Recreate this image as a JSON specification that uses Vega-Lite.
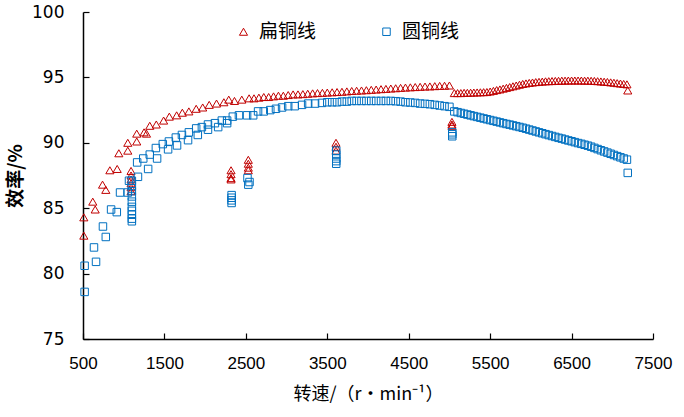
{
  "$schema": "https://vega.github.io/schema/vega-lite/v6.json",
  "width": 570,
  "height": 327,
  "autosize": {"type": "none"},
  "padding": {"left": 83, "top": 12, "right": 31, "bottom": 78},
  "background": "white",
  "config": {
    "view": {"stroke": null},
    "axis": {
      "grid": false,
      "domainColor": "black",
      "domainWidth": 1.5,
      "tickColor": "black",
      "tickWidth": 1.2,
      "tickSize": -6,
      "labelColor": "black",
      "titleColor": "black",
      "labelFlush": false
    }
  },
  "datasets": {
    "pts": [
      {"s":"扁铜线","x":510,"y":82.9},{"s":"扁铜线","x":510,"y":84.3},{"s":"扁铜线","x":620,"y":85.5},{"s":"扁铜线","x":650,"y":84.9},
      {"s":"扁铜线","x":740,"y":86.8},{"s":"扁铜线","x":780,"y":86.4},{"s":"扁铜线","x":830,"y":87.9},{"s":"扁铜线","x":920,"y":88.0},
      {"s":"扁铜线","x":940,"y":89.2},{"s":"扁铜线","x":1050,"y":89.4},{"s":"扁铜线","x":1050,"y":90.0},{"s":"扁铜线","x":1160,"y":90.1},
      {"s":"扁铜线","x":1160,"y":90.7},{"s":"扁铜线","x":1250,"y":90.8},{"s":"扁铜线","x":1280,"y":90.7},{"s":"扁铜线","x":1320,"y":91.3},
      {"s":"扁铜线","x":1400,"y":91.4},{"s":"扁铜线","x":1490,"y":91.7},{"s":"扁铜线","x":1560,"y":92.0},{"s":"扁铜线","x":1650,"y":92.1},
      {"s":"扁铜线","x":1720,"y":92.3},{"s":"扁铜线","x":1800,"y":92.4},{"s":"扁铜线","x":1890,"y":92.6},{"s":"扁铜线","x":1970,"y":92.7},
      {"s":"扁铜线","x":2050,"y":92.9},{"s":"扁铜线","x":2140,"y":93.0},{"s":"扁铜线","x":2230,"y":93.1},{"s":"扁铜线","x":2290,"y":93.3},
      {"s":"扁铜线","x":2360,"y":93.2},{"s":"扁铜线","x":2450,"y":93.3},
      {"s":"扁铜线","x":2540,"y":93.4},{"s":"扁铜线","x":2600,"y":93.4},{"s":"扁铜线","x":2660,"y":93.45},{"s":"扁铜线","x":2720,"y":93.5},
      {"s":"扁铜线","x":2780,"y":93.5},{"s":"扁铜线","x":2840,"y":93.55},{"s":"扁铜线","x":2900,"y":93.6},{"s":"扁铜线","x":2960,"y":93.6},
      {"s":"扁铜线","x":3020,"y":93.65},{"s":"扁铜线","x":3080,"y":93.7},{"s":"扁铜线","x":3140,"y":93.7},{"s":"扁铜线","x":3200,"y":93.72},
      {"s":"扁铜线","x":3260,"y":93.75},{"s":"扁铜线","x":3320,"y":93.78},{"s":"扁铜线","x":3380,"y":93.8},{"s":"扁铜线","x":3440,"y":93.82},
      {"s":"扁铜线","x":3500,"y":93.84},{"s":"扁铜线","x":3560,"y":93.86},{"s":"扁铜线","x":3620,"y":93.88},{"s":"扁铜线","x":3680,"y":93.9},
      {"s":"扁铜线","x":3740,"y":93.93},{"s":"扁铜线","x":3800,"y":93.96},{"s":"扁铜线","x":3860,"y":93.98},{"s":"扁铜线","x":3920,"y":94.0},
      {"s":"扁铜线","x":3980,"y":94.02},{"s":"扁铜线","x":4040,"y":94.05},{"s":"扁铜线","x":4100,"y":94.07},{"s":"扁铜线","x":4160,"y":94.1},
      {"s":"扁铜线","x":4220,"y":94.12},{"s":"扁铜线","x":4280,"y":94.15},{"s":"扁铜线","x":4340,"y":94.17},{"s":"扁铜线","x":4400,"y":94.2},
      {"s":"扁铜线","x":4460,"y":94.22},{"s":"扁铜线","x":4520,"y":94.24},{"s":"扁铜线","x":4580,"y":94.26},{"s":"扁铜线","x":4640,"y":94.28},
      {"s":"扁铜线","x":4700,"y":94.3},{"s":"扁铜线","x":4760,"y":94.31},{"s":"扁铜线","x":4820,"y":94.33},{"s":"扁铜线","x":4880,"y":94.35},
      {"s":"扁铜线","x":4940,"y":94.36},{"s":"扁铜线","x":5000,"y":94.38},
      {"s":"扁铜线","x":5060,"y":93.8},{"s":"扁铜线","x":5100,"y":93.8},{"s":"扁铜线","x":5140,"y":93.8},{"s":"扁铜线","x":5180,"y":93.82},
      {"s":"扁铜线","x":5220,"y":93.82},{"s":"扁铜线","x":5260,"y":93.83},{"s":"扁铜线","x":5300,"y":93.84},{"s":"扁铜线","x":5340,"y":93.85},
      {"s":"扁铜线","x":5380,"y":93.86},{"s":"扁铜线","x":5420,"y":93.87},{"s":"扁铜线","x":5460,"y":93.88},{"s":"扁铜线","x":5500,"y":93.92},
      {"s":"扁铜线","x":5540,"y":93.97},{"s":"扁铜线","x":5580,"y":94.03},{"s":"扁铜线","x":5620,"y":94.08},{"s":"扁铜线","x":5660,"y":94.14},
      {"s":"扁铜线","x":5700,"y":94.2},{"s":"扁铜线","x":5740,"y":94.26},{"s":"扁铜线","x":5780,"y":94.32},{"s":"扁铜线","x":5820,"y":94.38},
      {"s":"扁铜线","x":5860,"y":94.44},{"s":"扁铜线","x":5900,"y":94.5},{"s":"扁铜线","x":5940,"y":94.54},{"s":"扁铜线","x":5980,"y":94.58},
      {"s":"扁铜线","x":6020,"y":94.61},{"s":"扁铜线","x":6060,"y":94.64},{"s":"扁铜线","x":6100,"y":94.66},{"s":"扁铜线","x":6140,"y":94.68},
      {"s":"扁铜线","x":6180,"y":94.7},{"s":"扁铜线","x":6220,"y":94.71},{"s":"扁铜线","x":6260,"y":94.72},{"s":"扁铜线","x":6300,"y":94.73},
      {"s":"扁铜线","x":6340,"y":94.74},{"s":"扁铜线","x":6380,"y":94.75},{"s":"扁铜线","x":6420,"y":94.75},{"s":"扁铜线","x":6460,"y":94.76},
      {"s":"扁铜线","x":6500,"y":94.76},{"s":"扁铜线","x":6540,"y":94.76},{"s":"扁铜线","x":6580,"y":94.76},{"s":"扁铜线","x":6620,"y":94.76},
      {"s":"扁铜线","x":6660,"y":94.75},{"s":"扁铜线","x":6700,"y":94.75},{"s":"扁铜线","x":6740,"y":94.74},{"s":"扁铜线","x":6780,"y":94.73},
      {"s":"扁铜线","x":6820,"y":94.71},{"s":"扁铜线","x":6860,"y":94.69},{"s":"扁铜线","x":6900,"y":94.67},{"s":"扁铜线","x":6940,"y":94.65},
      {"s":"扁铜线","x":6980,"y":94.62},{"s":"扁铜线","x":7020,"y":94.59},{"s":"扁铜线","x":7060,"y":94.56},{"s":"扁铜线","x":7100,"y":94.53},
      {"s":"扁铜线","x":7140,"y":94.5},{"s":"扁铜线","x":7180,"y":94.47},{"s":"扁铜线","x":7190,"y":94.0},
      {"s":"扁铜线","x":1090,"y":87.85},{"s":"扁铜线","x":1090,"y":87.5},{"s":"扁铜线","x":1090,"y":87.2},{"s":"扁铜线","x":1090,"y":86.9},
      {"s":"扁铜线","x":1090,"y":86.6},{"s":"扁铜线","x":1090,"y":86.3},
      {"s":"扁铜线","x":2318,"y":87.9},{"s":"扁铜线","x":2318,"y":87.6},{"s":"扁铜线","x":2318,"y":87.3},{"s":"扁铜线","x":2318,"y":87.2},
      {"s":"扁铜线","x":2530,"y":88.7},{"s":"扁铜线","x":2530,"y":88.4},{"s":"扁铜线","x":2530,"y":88.1},{"s":"扁铜线","x":2530,"y":87.9},
      {"s":"扁铜线","x":3607,"y":90.0},{"s":"扁铜线","x":3607,"y":89.7},{"s":"扁铜线","x":3607,"y":89.4},
      {"s":"扁铜线","x":5031,"y":91.6},{"s":"扁铜线","x":5031,"y":91.4},{"s":"扁铜线","x":5031,"y":91.3},

      {"s":"圆铜线","x":520,"y":78.6},{"s":"圆铜线","x":520,"y":80.6},{"s":"圆铜线","x":635,"y":82.0},{"s":"圆铜线","x":660,"y":80.9},
      {"s":"圆铜线","x":745,"y":83.6},{"s":"圆铜线","x":780,"y":82.8},{"s":"圆铜线","x":845,"y":84.9},{"s":"圆铜线","x":915,"y":84.7},
      {"s":"圆铜线","x":955,"y":86.2},{"s":"圆铜线","x":1050,"y":86.2},{"s":"圆铜线","x":1065,"y":87.1},{"s":"圆铜线","x":1165,"y":88.5},
      {"s":"圆铜线","x":1175,"y":87.4},{"s":"圆铜线","x":1240,"y":88.8},{"s":"圆铜线","x":1300,"y":88.0},{"s":"圆铜线","x":1320,"y":89.1},
      {"s":"圆铜线","x":1395,"y":89.6},{"s":"圆铜线","x":1410,"y":88.8},{"s":"圆铜线","x":1480,"y":89.9},{"s":"圆铜线","x":1545,"y":89.5},
      {"s":"圆铜线","x":1555,"y":90.1},{"s":"圆铜线","x":1640,"y":90.4},{"s":"圆铜线","x":1655,"y":89.8},{"s":"圆铜线","x":1715,"y":90.6},
      {"s":"圆铜线","x":1790,"y":90.2},{"s":"圆铜线","x":1800,"y":90.8},{"s":"圆铜线","x":1890,"y":91.1},{"s":"圆铜线","x":1910,"y":90.6},
      {"s":"圆铜线","x":1960,"y":91.2},{"s":"圆铜线","x":2035,"y":91.0},{"s":"圆铜线","x":2035,"y":91.4},{"s":"圆铜线","x":2120,"y":91.5},
      {"s":"圆铜线","x":2160,"y":91.2},{"s":"圆铜线","x":2205,"y":91.7},{"s":"圆铜线","x":2270,"y":91.5},{"s":"圆铜线","x":2270,"y":91.7},
      {"s":"圆铜线","x":2340,"y":92.0},{"s":"圆铜线","x":2415,"y":92.1},{"s":"圆铜线","x":2515,"y":92.1},{"s":"圆铜线","x":2590,"y":92.1},
      {"s":"圆铜线","x":2650,"y":92.4},{"s":"圆铜线","x":2720,"y":92.4},{"s":"圆铜线","x":2800,"y":92.5},{"s":"圆铜线","x":2870,"y":92.6},
      {"s":"圆铜线","x":2945,"y":92.7},{"s":"圆铜线","x":3020,"y":92.8},{"s":"圆铜线","x":3100,"y":92.8},{"s":"圆铜线","x":3190,"y":92.9},
      {"s":"圆铜线","x":3265,"y":93.0},{"s":"圆铜线","x":3350,"y":93.0},{"s":"圆铜线","x":3435,"y":93.05},{"s":"圆铜线","x":3500,"y":93.1},
      {"s":"圆铜线","x":3560,"y":93.1},{"s":"圆铜线","x":3620,"y":93.1},{"s":"圆铜线","x":3680,"y":93.15},{"s":"圆铜线","x":3740,"y":93.15},
      {"s":"圆铜线","x":3800,"y":93.2},{"s":"圆铜线","x":3860,"y":93.2},{"s":"圆铜线","x":3920,"y":93.2},{"s":"圆铜线","x":3980,"y":93.2},
      {"s":"圆铜线","x":4040,"y":93.2},{"s":"圆铜线","x":4100,"y":93.2},{"s":"圆铜线","x":4160,"y":93.2},{"s":"圆铜线","x":4220,"y":93.2},
      {"s":"圆铜线","x":4280,"y":93.2},{"s":"圆铜线","x":4340,"y":93.18},{"s":"圆铜线","x":4400,"y":93.15},{"s":"圆铜线","x":4460,"y":93.1},
      {"s":"圆铜线","x":4520,"y":93.08},{"s":"圆铜线","x":4580,"y":93.05},{"s":"圆铜线","x":4640,"y":93.0},{"s":"圆铜线","x":4700,"y":92.98},
      {"s":"圆铜线","x":4760,"y":92.95},{"s":"圆铜线","x":4820,"y":92.9},{"s":"圆铜线","x":4880,"y":92.85},{"s":"圆铜线","x":4940,"y":92.8},
      {"s":"圆铜线","x":5000,"y":92.75},
      {"s":"圆铜线","x":5060,"y":92.4},{"s":"圆铜线","x":5100,"y":92.34},{"s":"圆铜线","x":5140,"y":92.28},{"s":"圆铜线","x":5180,"y":92.22},
      {"s":"圆铜线","x":5220,"y":92.16},{"s":"圆铜线","x":5260,"y":92.1},{"s":"圆铜线","x":5300,"y":92.04},{"s":"圆铜线","x":5340,"y":91.98},
      {"s":"圆铜线","x":5380,"y":91.92},{"s":"圆铜线","x":5420,"y":91.86},{"s":"圆铜线","x":5460,"y":91.8},{"s":"圆铜线","x":5500,"y":91.74},
      {"s":"圆铜线","x":5540,"y":91.68},{"s":"圆铜线","x":5580,"y":91.62},{"s":"圆铜线","x":5620,"y":91.56},{"s":"圆铜线","x":5660,"y":91.5},
      {"s":"圆铜线","x":5700,"y":91.44},{"s":"圆铜线","x":5740,"y":91.39},{"s":"圆铜线","x":5780,"y":91.33},{"s":"圆铜线","x":5820,"y":91.27},
      {"s":"圆铜线","x":5860,"y":91.21},{"s":"圆铜线","x":5900,"y":91.15},{"s":"圆铜线","x":5940,"y":91.08},{"s":"圆铜线","x":5980,"y":91.01},
      {"s":"圆铜线","x":6020,"y":90.94},{"s":"圆铜线","x":6060,"y":90.87},{"s":"圆铜线","x":6100,"y":90.8},{"s":"圆铜线","x":6140,"y":90.73},
      {"s":"圆铜线","x":6180,"y":90.66},{"s":"圆铜线","x":6220,"y":90.59},{"s":"圆铜线","x":6260,"y":90.52},{"s":"圆铜线","x":6300,"y":90.45},
      {"s":"圆铜线","x":6340,"y":90.38},{"s":"圆铜线","x":6380,"y":90.32},{"s":"圆铜线","x":6420,"y":90.25},{"s":"圆铜线","x":6460,"y":90.18},
      {"s":"圆铜线","x":6500,"y":90.12},{"s":"圆铜线","x":6540,"y":90.05},{"s":"圆铜线","x":6580,"y":89.98},{"s":"圆铜线","x":6620,"y":89.92},
      {"s":"圆铜线","x":6660,"y":89.85},{"s":"圆铜线","x":6700,"y":89.78},{"s":"圆铜线","x":6740,"y":89.7},{"s":"圆铜线","x":6780,"y":89.61},
      {"s":"圆铜线","x":6820,"y":89.52},{"s":"圆铜线","x":6860,"y":89.43},{"s":"圆铜线","x":6900,"y":89.34},{"s":"圆铜线","x":6940,"y":89.25},
      {"s":"圆铜线","x":6980,"y":89.16},{"s":"圆铜线","x":7020,"y":89.07},{"s":"圆铜线","x":7060,"y":88.98},{"s":"圆铜线","x":7100,"y":88.89},
      {"s":"圆铜线","x":7140,"y":88.8},{"s":"圆铜线","x":7180,"y":88.71},{"s":"圆铜线","x":7190,"y":87.7},
      {"s":"圆铜线","x":1100,"y":87.1},{"s":"圆铜线","x":1100,"y":86.7},{"s":"圆铜线","x":1100,"y":86.3},{"s":"圆铜线","x":1100,"y":85.9},
      {"s":"圆铜线","x":1100,"y":85.5},{"s":"圆铜线","x":1100,"y":85.1},{"s":"圆铜线","x":1100,"y":84.8},{"s":"圆铜线","x":1100,"y":84.5},
      {"s":"圆铜线","x":1100,"y":84.2},{"s":"圆铜线","x":1100,"y":84.0},
      {"s":"圆铜线","x":2325,"y":86.0},{"s":"圆铜线","x":2325,"y":85.8},{"s":"圆铜线","x":2325,"y":85.6},{"s":"圆铜线","x":2325,"y":85.4},
      {"s":"圆铜线","x":2520,"y":87.3},{"s":"圆铜线","x":2545,"y":87.0},{"s":"圆铜线","x":2530,"y":86.8},
      {"s":"圆铜线","x":3610,"y":89.4},{"s":"圆铜线","x":3610,"y":89.1},{"s":"圆铜线","x":3610,"y":88.8},{"s":"圆铜线","x":3610,"y":88.6},
      {"s":"圆铜线","x":3610,"y":88.4},
      {"s":"圆铜线","x":5035,"y":90.8},{"s":"圆铜线","x":5035,"y":90.65},{"s":"圆铜线","x":5035,"y":90.5}
    ]
  },
  "data": {"name": "pts"},
  "mark": {"type": "point", "filled": false, "strokeWidth": 1, "opacity": 1},
  "encoding": {
    "x": {
      "field": "x", "type": "quantitative",
      "scale": {"domain": [500, 7500], "nice": false, "zero": false},
      "axis": {
        "values": [500, 1500, 2500, 3500, 4500, 5500, 6500, 7500],
        "format": "d",
        "title": "转速/（r·min⁻¹）",
        "titleFont": "Noto Sans CJK SC",
        "titleFontSize": 18,
        "titleFontWeight": "normal",
        "titlePadding": 14,
        "labelFont": "Liberation Sans",
        "labelFontSize": 17,
        "labelPadding": 22
      }
    },
    "y": {
      "field": "y", "type": "quantitative",
      "scale": {"domain": [75, 100], "nice": false, "zero": false},
      "axis": {
        "values": [75, 80, 85, 90, 95, 100],
        "title": "效率/%",
        "titleFont": "Noto Sans CJK SC",
        "titleFontSize": 19,
        "titleFontWeight": "bold",
        "titlePadding": 6,
        "labelFont": "DejaVu Sans",
        "labelFontSize": 17,
        "labelPadding": 25
      }
    },
    "color": {
      "field": "s", "type": "nominal",
      "scale": {"domain": ["扁铜线", "圆铜线"], "range": ["#C00000", "#0070C0"]},
      "legend": {
        "title": null,
        "orient": "none",
        "legendX": 151,
        "legendY": 10,
        "direction": "horizontal",
        "columnPadding": 60,
        "labelFont": "Noto Sans CJK SC",
        "labelFontSize": 19,
        "labelColor": "black",
        "labelOffset": 6,
        "symbolSize": 40,
        "symbolStrokeWidth": 1
      }
    },
    "shape": {
      "field": "s", "type": "nominal",
      "scale": {"domain": ["扁铜线", "圆铜线"], "range": ["triangle-up", "square"]},
      "legend": null
    },
    "size": {
      "field": "s", "type": "nominal",
      "scale": {"domain": ["扁铜线", "圆铜线"], "range": [66, 56]},
      "legend": null
    }
  }
}
